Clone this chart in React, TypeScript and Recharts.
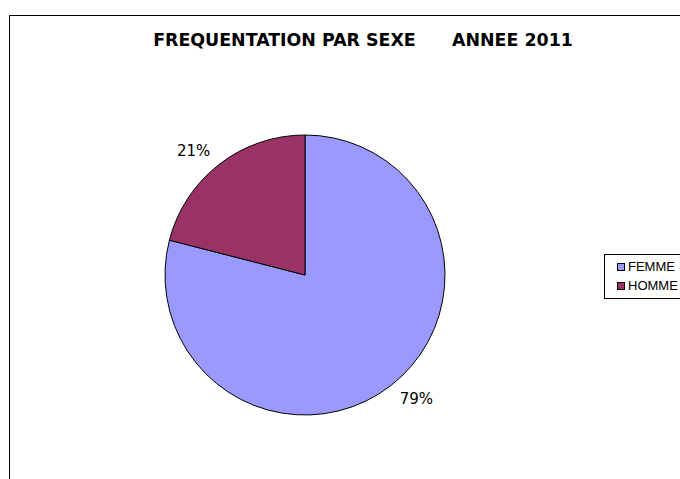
import React from 'react';
import { PieChart, Pie, Cell, Legend } from 'recharts';

// Fréquentation par sexe, année 2011
const categories = ['FEMME', 'HOMME'];
const percentages = [79, 21];
const colors = ['#9999FF', '#993366'];

const data = categories.map((name, i) => ({ name, value: percentages[i] }));

const RADIAN = Math.PI / 180;

const renderLabel = (props: any) => {
  const { cx, cy, midAngle, outerRadius, value } = props;
  const r = outerRadius + 27;
  const a = (midAngle + 4) * RADIAN;
  const x = cx + r * Math.cos(-a);
  const y = cy + r * Math.sin(-a);
  return (
    <text x={x} y={y} textAnchor="middle" dominantBaseline="central" fill="#000" fontSize={15} fontFamily="DejaVu Sans">
      {value}%
    </text>
  );
};

const LegendBox = () => (
  <div style={{ border: '1px solid #000', background: '#fff', padding: '2px 0 3px 12px', width: 90, fontFamily: 'Liberation Sans', fontSize: 13 }}>
    {categories.map((c, i) => (
      <div key={c} style={{ display: 'flex', alignItems: 'center', height: 19 }}>
        <span style={{ flex: 'none', width: 6, height: 6, border: '1px solid #000', background: colors[i], marginRight: 3 }} />
        <span style={{ whiteSpace: 'nowrap' }}>{c}</span>
      </div>
    ))}
  </div>
);

export default function App() {
  return (
    <div style={{ position: 'fixed', left: 0, top: 0, width: 680, height: 479, overflow: 'hidden', background: '#fff' }}>
      <div style={{ position: 'absolute', left: 9, top: 15, width: 800, height: 600, borderLeft: '1px solid #000', borderTop: '1px solid #000' }} />
      <div style={{ position: 'absolute', left: 363, top: 30, transform: 'translateX(-50%)', whiteSpace: 'pre', fontFamily: 'DejaVu Sans', fontWeight: 'bold', fontSize: 17.4, color: '#000' }}>
        {'FREQUENTATION PAR SEXE      ANNEE 2011'}
      </div>
      <PieChart width={680} height={479} margin={{ top: 0, right: 0, bottom: 0, left: 0 }} style={{ position: 'absolute', left: 0, top: 0 }}>
        <Pie
          data={data}
          dataKey="value"
          nameKey="name"
          cx={305}
          cy={275}
          outerRadius={140}
          startAngle={90}
          endAngle={-270}
          stroke="#000"
          strokeWidth={1}
          label={renderLabel}
          labelLine={false}
          isAnimationActive={false}
        >
          {data.map((d, i) => (
            <Cell key={d.name} fill={colors[i]} />
          ))}
        </Pie>
        <Legend content={<LegendBox />} wrapperStyle={{ position: 'absolute', left: 604, top: 254, width: 110 }} />
      </PieChart>
    </div>
  );
}
